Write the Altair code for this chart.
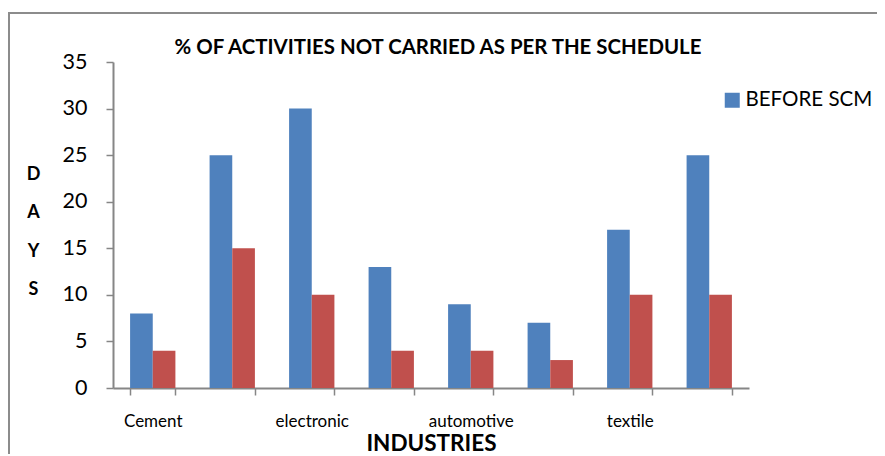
import altair as alt
import pandas as pd

# ---- data ----
industries = ["Cement", " ", "electronic", "  ", "automotive", "   ", "textile", "    "]
series = ["BEFORE SCM", "AFTER SCM"]
before_scm = [8, 25, 30, 13, 9, 7, 17, 25]
after_scm = [4, 15, 10, 4, 4, 3, 10, 10]
y_ticks = [0, 5, 10, 15, 20, 25, 30, 35]
colors = ["#4F81BD", "#C0504D"]

rows = []
for i, ind in enumerate(industries):
    rows.append({"industry": ind, "series": series[0], "value": before_scm[i]})
    rows.append({"industry": ind, "series": series[1], "value": after_scm[i]})
df = pd.DataFrame(rows)

FONT = "Lato"
GRAY = "#868686"

bars = alt.Chart(df).mark_bar().encode(
    x=alt.X(
        "industry:N",
        sort=industries,
        scale=alt.Scale(paddingInner=0.43, paddingOuter=0.215),
        axis=alt.Axis(
            labelAngle=0,
            labelFont=FONT,
            labelFontSize=17,
            labelColor="black",
            labelPadding=18,
            tickBand="extent",
            tickSize=7,
            tickWidth=1.5,
            tickColor=GRAY,
            domainColor=GRAY,
            domainWidth=2,
            title="INDUSTRIES",
            titleFont=FONT,
            titleFontSize=22.5,
            titleFontWeight="bold",
            titleColor="black",
            titleBaseline="alphabetic",
            titleY=62,
        ),
    ),
    xOffset=alt.XOffset("series:N", sort=series, scale=alt.Scale(paddingInner=0, paddingOuter=0)),
    y=alt.Y(
        "value:Q",
        scale=alt.Scale(domain=[0, 35], nice=False),
        axis=alt.Axis(
            values=y_ticks,
            grid=False,
            labelFont=FONT,
            labelFontSize=21.5,
            labelColor="black",
            labelPadding=19,
            tickSize=7,
            tickWidth=1.5,
            tickColor=GRAY,
            domainColor=GRAY,
            domainWidth=2,
            title=["D", "A", "Y", "S"],
            titleFont=FONT,
            titleFontSize=18,
            titleFontWeight="bold",
            titleColor="black",
            titleAngle=0,
            titleAlign="center",
            titleBaseline="alphabetic",
            titleLineHeight=38.5,
            titleX=-80,
            titleY=117,
        ),
    ),
    color=alt.Color(
        "series:N",
        scale=alt.Scale(domain=series, range=colors),
        legend=alt.Legend(
            values=["BEFORE SCM"],
            orient="none",
            legendX=609,
            legendY=28,
            title=None,
            padding=0,
            symbolType="square",
            symbolSize=225,
            symbolStrokeWidth=0,
            labelFont=FONT,
            labelFontSize=20.5,
            labelColor="black",
            labelOffset=3,
        ),
    ),
)

one = pd.DataFrame({"k": [0]})
frame_left = alt.Chart(one).mark_rule(color="#8c8c8c", strokeWidth=2).encode(
    x=alt.value(-104), y=alt.value(-49), y2=alt.value(420)
)
frame_top = alt.Chart(one).mark_rule(color="#8c8c8c", strokeWidth=2).encode(
    x=alt.value(-105), x2=alt.value(800), y=alt.value(-49)
)

chart = alt.layer(frame_left, frame_top, bars).properties(
    width=636,
    height=326,
    autosize=alt.AutoSizeParams(type="none"),
    padding={"left": 105, "top": 54, "right": 128, "bottom": 66},
    background="white",
    title=alt.TitleParams(
        "% OF ACTIVITIES NOT CARRIED AS PER THE SCHEDULE",
        font=FONT,
        fontSize=20.4,
        fontWeight="bold",
        color="black",
        anchor="middle",
        baseline="alphabetic",
        offset=0,
        dx=7,
        dy=62,
    ),
).configure_view(stroke=None)

chart.save("out.html", embed_options={"renderer": "svg", "actions": False})
